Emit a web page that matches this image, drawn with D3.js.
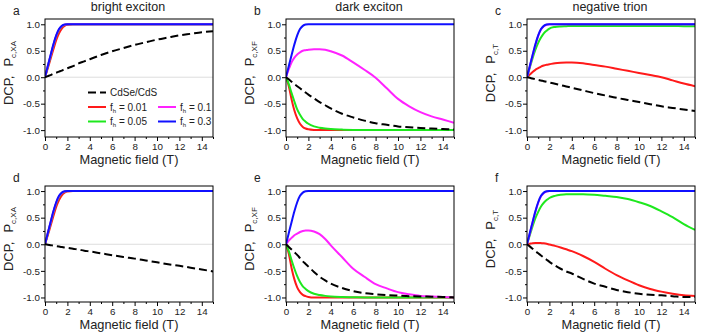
<!DOCTYPE html>
<html><head><meta charset="utf-8">
<script src="https://cdn.jsdelivr.net/npm/d3@7"></script>
<style>
body{margin:0;background:#fff;}
svg{display:block;font-family:"Liberation Sans",Arial,Helvetica,sans-serif;}
</style></head><body>
<svg id="c" width="702" height="335"></svg>
<script>
// ---- data ----
const B = [0,0.25,0.5,0.75,1,1.25,1.5,1.75,2,2.5,3,3.5,4,5,6,7,8,9,10,11,12,13,14,15];
const xMajorTicks = [0,2,4,6,8,10,12,14];
const xMinorTicks = [1,3,5,7,9,11,13,15];
const yMajorTicks = [-1,-0.5,0,0.5,1];
const yMinorTicks = [-0.75,-0.25,0.25,0.75];
const panelTitles = ["bright exciton","dark exciton","negative trion"];
const panelLetters = ["a","b","c","d","e","f"];
const ySubs = ["c,XA","c,XF","c,T"];
const legendLabels = ["CdSe/CdS","0.01","0.1","0.05","0.3"];

const blueRise = [0,0.21,0.42,0.62,0.79,0.91,0.97,0.995,1,1,1,1,1,1,1,1,1,1,1,1,1,1,1,1];

const aDash = [0,0.02,0.04,0.065,0.085,0.105,0.125,0.15,0.17,0.21,0.26,0.30,0.34,0.42,0.49,0.55,0.61,0.66,0.71,0.75,0.79,0.82,0.85,0.87];
const aRed  = [0,0.17,0.35,0.53,0.70,0.83,0.92,0.97,0.99,1,1,1,1,1,1,1,1,1,1,1,1,1,1,1];
const aGreen= [0,0.20,0.40,0.60,0.77,0.89,0.96,0.99,1,1,1,1,1,1,1,1,1,1,1,1,1,1,1,1];
const aMag  = [0,0.21,0.41,0.61,0.78,0.90,0.965,0.993,1,1,1,1,1,1,1,1,1,1,1,1,1,1,1,1];

const bDash = [0,-0.04,-0.085,-0.13,-0.17,-0.21,-0.25,-0.29,-0.33,-0.40,-0.47,-0.53,-0.59,-0.69,-0.76,-0.82,-0.87,-0.90,-0.93,-0.945,-0.96,-0.97,-0.98,-0.99];
const bRed  = [0,-0.17,-0.42,-0.63,-0.78,-0.88,-0.94,-0.97,-0.985,-0.997,-1,-1,-1,-1,-1,-1,-1,-1,-1,-1,-1,-1,-1,-1];
const bGreen= [0,-0.13,-0.30,-0.46,-0.61,-0.71,-0.79,-0.84,-0.88,-0.93,-0.955,-0.97,-0.98,-0.99,-0.997,-1,-1,-1,-1,-1,-1,-1,-1,-1];
const bMag  = [0,0.15,0.28,0.37,0.43,0.47,0.50,0.51,0.52,0.53,0.53,0.52,0.49,0.41,0.28,0.14,-0.01,-0.21,-0.41,-0.55,-0.66,-0.74,-0.80,-0.86];

const cDash = [0,-0.012,-0.025,-0.037,-0.05,-0.062,-0.075,-0.087,-0.10,-0.125,-0.15,-0.175,-0.20,-0.25,-0.30,-0.345,-0.39,-0.43,-0.47,-0.51,-0.55,-0.58,-0.61,-0.64];
const cRed  = [0,0.05,0.10,0.14,0.17,0.20,0.22,0.235,0.245,0.265,0.275,0.28,0.28,0.265,0.23,0.20,0.16,0.12,0.08,0.04,0,-0.06,-0.12,-0.17];
const cGreen= [0,0.18,0.36,0.52,0.65,0.75,0.83,0.88,0.92,0.95,0.96,0.965,0.97,0.97,0.97,0.97,0.97,0.97,0.97,0.97,0.97,0.97,0.965,0.965];
const cMag  = [0,0.20,0.41,0.61,0.78,0.90,0.965,0.99,1,1,1,1,1,1,1,1,1,1,1,1,1,1,1,1];

const dDash = [0,-0.008,-0.017,-0.025,-0.034,-0.042,-0.05,-0.06,-0.068,-0.085,-0.10,-0.12,-0.135,-0.17,-0.205,-0.24,-0.27,-0.305,-0.34,-0.375,-0.405,-0.44,-0.475,-0.51];
const dRed  = [0,0.17,0.35,0.53,0.70,0.83,0.92,0.97,0.99,1,1,1,1,1,1,1,1,1,1,1,1,1,1,1];
const dGreen= [0,0.20,0.40,0.60,0.77,0.89,0.96,0.99,1,1,1,1,1,1,1,1,1,1,1,1,1,1,1,1];
const dMag  = [0,0.21,0.41,0.61,0.78,0.90,0.965,0.993,1,1,1,1,1,1,1,1,1,1,1,1,1,1,1,1];

const eDash = [0,-0.05,-0.10,-0.15,-0.20,-0.26,-0.32,-0.37,-0.42,-0.52,-0.61,-0.68,-0.74,-0.82,-0.88,-0.92,-0.94,-0.955,-0.965,-0.975,-0.98,-0.985,-0.99,-1.0];
const eRed  = [0,-0.18,-0.45,-0.66,-0.81,-0.90,-0.95,-0.975,-0.99,-1,-1,-1,-1,-1,-1,-1,-1,-1,-1,-1,-1,-1,-1,-1];
const eGreen= [0,-0.13,-0.30,-0.46,-0.60,-0.71,-0.79,-0.84,-0.88,-0.93,-0.955,-0.97,-0.98,-0.99,-0.995,-1,-1,-1,-1,-1,-1,-1,-1,-1];
const eMag  = [0,0.07,0.12,0.17,0.20,0.23,0.25,0.26,0.26,0.24,0.19,0.10,-0.02,-0.24,-0.46,-0.61,-0.75,-0.83,-0.90,-0.94,-0.97,-0.98,-0.99,-1.0];

const fDash = [0,-0.04,-0.085,-0.13,-0.17,-0.21,-0.25,-0.29,-0.33,-0.40,-0.46,-0.51,-0.55,-0.65,-0.74,-0.80,-0.86,-0.90,-0.93,-0.95,-0.96,-0.975,-0.99,-0.99];
const fRed  = [0,0.01,0.02,0.025,0.025,0.022,0.018,0.01,-0.005,-0.03,-0.06,-0.095,-0.13,-0.22,-0.33,-0.46,-0.58,-0.68,-0.77,-0.84,-0.89,-0.93,-0.96,-0.97];
const fGreen= [0,0.17,0.34,0.49,0.61,0.71,0.78,0.83,0.87,0.91,0.93,0.94,0.94,0.94,0.93,0.91,0.89,0.85,0.79,0.72,0.62,0.51,0.38,0.27];
const fMag  = [0,0.20,0.41,0.61,0.78,0.90,0.965,0.99,1,1,1,1,1,1,1,1,1,1,1,1,1,1,1,1];

// ---- styling / layout ----
const COL = {dash:"#000000", red:"#ff1a1a", green:"#1ee81e", mag:"#ff22ff", blue:"#1010ff"};
const cols = [45,286,527], pw = 168;
const rows = [{top:19,bottom:137,dom:[-1.13,1.1]},{top:186,bottom:302,dom:[-1.085,1.095]}];
const panelData = [
  {red:aRed,green:aGreen,mag:aMag,blue:blueRise,dash:aDash},
  {red:bRed,green:bGreen,mag:bMag,blue:blueRise,dash:bDash},
  {red:cRed,green:cGreen,mag:cMag,blue:blueRise,dash:cDash},
  {red:dRed,green:dGreen,mag:dMag,blue:blueRise,dash:dDash},
  {red:eRed,green:eGreen,mag:eMag,blue:blueRise,dash:eDash},
  {red:fRed,green:fGreen,mag:fMag,blue:blueRise,dash:fDash}
];

const svg = d3.select("#c");
const fmt = d => d.toFixed(1);

panelData.forEach((pd,i)=>{
  const ci = i%3, ri = Math.floor(i/3);
  const L = cols[ci], R = L+pw, T = rows[ri].top, Bt = rows[ri].bottom;
  const x = d3.scaleLinear().domain([0,15]).range([L,R]);
  const y = d3.scaleLinear().domain(rows[ri].dom).range([Bt,T]);
  const g = svg.append("g");
  const cid = "clip"+i;
  svg.append("clipPath").attr("id",cid).append("rect").attr("x",L).attr("y",T).attr("width",pw).attr("height",Bt-T);

  // zero line
  g.append("line").attr("x1",x(0)).attr("x2",x(15)).attr("y1",y(0)).attr("y2",y(0))
    .attr("stroke","#dddddd").attr("stroke-width",1);

  const line = d3.line().x((d,k)=>x(B[k])).y(d=>y(d)).curve(d3.curveMonotoneX);
  const cg = g.append("g").attr("clip-path",`url(#${cid})`);
  ["red","green","mag","blue"].forEach(k=>{
    cg.append("path").attr("d",line(pd[k])).attr("fill","none").attr("stroke",COL[k])
      .attr("stroke-width",2).attr("stroke-linejoin","round");
  });
  cg.append("path").attr("d",line(pd.dash)).attr("fill","none").attr("stroke",COL.dash)
    .attr("stroke-width",2).attr("stroke-dasharray","8,4");

  // axes
  const xa = g.append("g").attr("transform",`translate(0,${Bt})`)
    .call(d3.axisBottom(x).tickValues(xMajorTicks).tickSize(4).tickPadding(2).tickFormat(d3.format("d")));
  const xm = g.append("g").attr("transform",`translate(0,${Bt})`)
    .call(d3.axisBottom(x).tickValues(xMinorTicks).tickSize(2).tickFormat(""));
  const ya = g.append("g").attr("transform",`translate(${L},0)`)
    .call(d3.axisLeft(y).tickValues(yMajorTicks).tickSize(4).tickPadding(1).tickFormat(fmt));
  const ym = g.append("g").attr("transform",`translate(${L},0)`)
    .call(d3.axisLeft(y).tickValues(yMinorTicks).tickSize(2).tickFormat(""));
  [xa,xm,ya,ym].forEach(a=>{
    a.select(".domain").remove();
    a.selectAll("line").attr("stroke","#000");
    a.selectAll("text").attr("fill","#222").style("font-size","9.8px").style("font-family",'"Liberation Sans",Arial,sans-serif');
  });
  // frame
  g.append("rect").attr("x",L).attr("y",T).attr("width",pw).attr("height",Bt-T)
    .attr("fill","none").attr("stroke","#000").attr("stroke-width",1);

  // x axis title
  g.append("text").attr("x",(L+R)/2).attr("y",Bt+26.5).attr("text-anchor","middle")
    .style("font-size","12.8px").attr("fill","#222").text("Magnetic field (T)");
  // y axis title
  const yt = g.append("text").attr("transform",`translate(${L-32},${(T+Bt)/2-5}) rotate(-90)`)
    .attr("text-anchor","middle").style("font-size","13px").attr("fill","#222");
  yt.append("tspan").text("DCP,\u2002\u2009P");
  yt.append("tspan").attr("dy",3).style("font-size","8px").text(ySubs[ci]);
  // panel letter
  g.append("text").attr("x",L-32).attr("y",T-4).style("font-size","12px").attr("fill","#222").text(panelLetters[i]);
  // title
  if(ri===0){
    g.append("text").attr("x",(L+R)/2-1).attr("y",11).attr("text-anchor","middle")
      .style("font-size","12.5px").attr("fill","#222").text(panelTitles[ci]);
  }
  // legend
  if(i===0){
    const lg = g.append("g").style("font-size","10px").attr("fill","#222");
    const items = [
      {k:"dash",lx:88,ly:92.5,label:legendLabels[0],plain:true},
      {k:"red",lx:88,ly:107,label:legendLabels[1]},
      {k:"mag",lx:158,ly:107,label:legendLabels[2]},
      {k:"green",lx:88,ly:121.5,label:legendLabels[3]},
      {k:"blue",lx:158,ly:121.5,label:legendLabels[4]}
    ];
    items.forEach(it=>{
      lg.append("line").attr("x1",it.lx).attr("x2",it.lx+18).attr("y1",it.ly).attr("y2",it.ly)
        .attr("stroke",COL[it.k]).attr("stroke-width",2).attr("stroke-dasharray",it.k==="dash"?"8,4":null);
      const t = lg.append("text").attr("x",it.lx+22).attr("y",it.ly+3.5);
      if(it.plain){ t.text(it.label); }
      else {
        t.append("tspan").text("f");
        t.append("tspan").attr("dy",2).style("font-size","6px").text("h");
        t.append("tspan").attr("dy",-2).text(" = "+it.label);
      }
    });
  }
});
</script>
</body></html>
